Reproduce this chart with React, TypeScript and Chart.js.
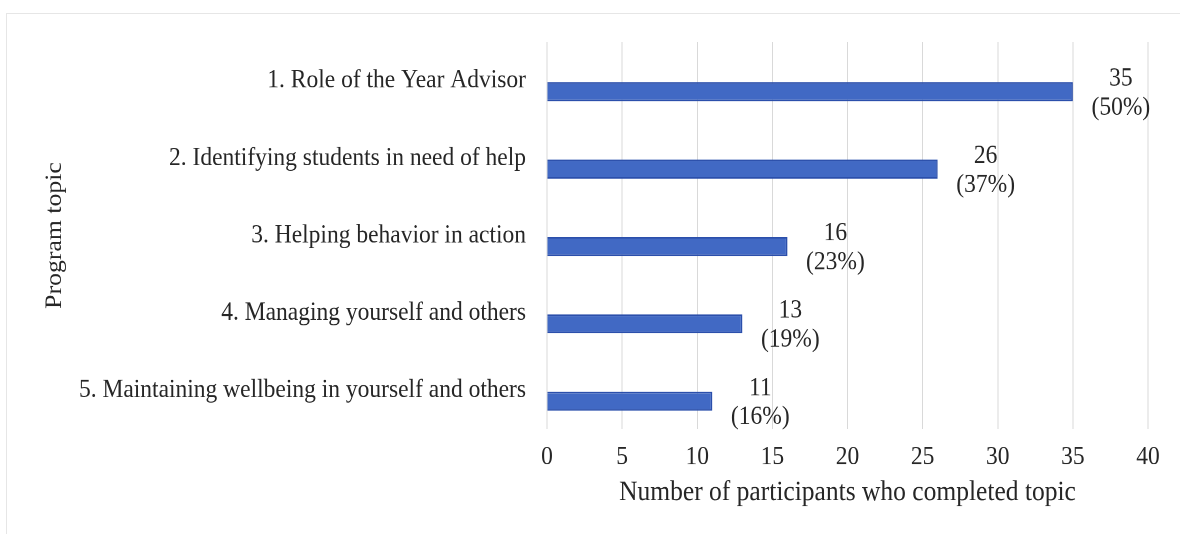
import React, { useEffect, useRef } from "react";
import { Chart, registerables } from "chart.js";

Chart.register(...registerables);

const categories = [
  "1. Role of the Year Advisor",
  "2. Identifying students in need of help",
  "3. Helping behavior in action",
  "4. Managing yourself and others",
  "5. Maintaining wellbeing in yourself and others",
];
const participants = [35, 26, 16, 13, 11];
const percentages = ["(50%)", "(37%)", "(23%)", "(19%)", "(16%)"];
const spacerSeries = [null, null, null, null, null];
const xTicks = [0, 5, 10, 15, 20, 25, 30, 35, 40];

const FONT = "'Liberation Serif', 'Times New Roman', serif";
const TEXT = "#262626";
const STRETCH = 1.12;
const W = 1180;
const H = Math.round(534 / STRETCH);

const labelPlugin = {
  id: "barLabels",
  afterDatasetsDraw(chart: any) {
    const ctx = chart.ctx;
    const meta = chart.getDatasetMeta(1);
    ctx.save();
    ctx.font = `23.5px ${FONT}`;
    ctx.fillStyle = TEXT;
    ctx.textAlign = "center";
    ctx.textBaseline = "middle";
    meta.data.forEach((bar: any, i: number) => {
      const x = bar.x + 48;
      ctx.fillText(String(participants[i]), x, bar.y - 11.6);
      ctx.fillText(percentages[i], x, bar.y + 14.3);
    });
    ctx.restore();
  },
};

export default function App() {
  const ref = useRef<HTMLCanvasElement | null>(null);
  useEffect(() => {
    if (!ref.current) return;
    const chart = new Chart(ref.current, {
      type: "bar",
      data: {
        labels: categories,
        datasets: [
          {
            label: "spacer",
            data: spacerSeries as any,
            backgroundColor: "rgba(0,0,0,0)",
          },
          {
            label: "Participants",
            data: participants,
            backgroundColor: "#4169c4",
            borderColor: "#2b4fab",
            borderWidth: 1.5,
          },
        ],
      },
      options: {
        indexAxis: "y",
        animation: false,
        responsive: true,
        maintainAspectRatio: false,
        devicePixelRatio: 2,
        datasets: {
          bar: { categoryPercentage: 0.567, barPercentage: 0.87 },
        },
        layout: { padding: { left: 30, top: 37.5, right: 32, bottom: 0 } },
        plugins: {
          legend: { display: false },
          tooltip: { enabled: false },
        },
        scales: {
          x: {
            type: "linear",
            min: 0,
            max: 40,
            afterBuildTicks: (scale: any) => {
              scale.ticks = xTicks.map((v) => ({ value: v }));
            },
            afterFit: (scale: any) => {
              scale.height = 94;
            },
            grid: { color: "#d9d9d9", lineWidth: 1, drawTicks: false },
            border: { display: false },
            ticks: {
              padding: 11,
              color: TEXT,
              font: { family: FONT, size: 23.5 },
            },
            title: {
              display: true,
              text: "Number of participants who completed topic",
              color: TEXT,
              font: { family: FONT, size: 25.5 },
              padding: { top: 0, bottom: 21.7 },
            },
          },
          y: {
            afterFit: (scale: any) => {
              scale.width = 547 - 30;
            },
            grid: { display: false, drawTicks: false },
            border: { display: false },
            ticks: {
              padding: 21,
              color: TEXT,
              font: { family: FONT, size: 23.5 },
            },
            title: {
              display: true,
              text: "Program topic",
              color: TEXT,
              font: { family: FONT, size: 23 },
              padding: { top: 11, bottom: 0 },
            },
          },
        },
      },
      plugins: [labelPlugin],
    });
    return () => chart.destroy();
  }, []);

  return (
    <div style={{ position: "absolute", left: 0, top: 0, width: W, height: 534, overflow: "hidden", background: "#fff" }}>
      <div
        style={{
          position: "absolute",
          left: 6,
          top: 13,
          width: 1300,
          height: 700,
          border: "1px solid #e6e6e6",
        }}
      />
      <div
        style={{
          position: "absolute",
          left: 0,
          top: 0,
          width: W,
          height: H,
          transform: `scaleY(${STRETCH})`,
          transformOrigin: "0 0",
        }}
      >
        <canvas ref={ref} />
      </div>
    </div>
  );
}
